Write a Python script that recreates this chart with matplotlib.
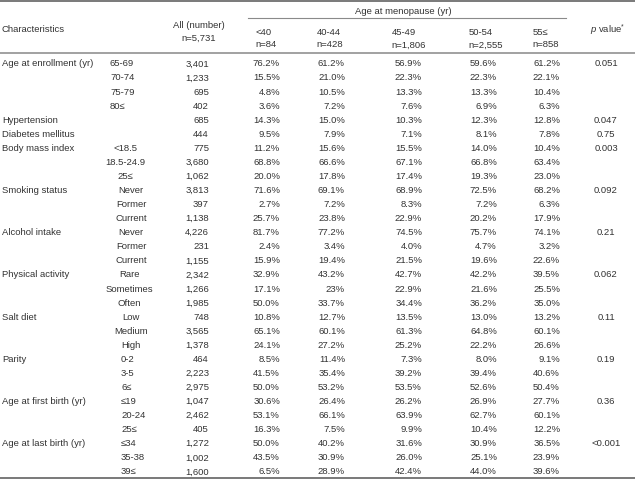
import matplotlib
matplotlib.use("Agg")
import matplotlib.pyplot as plt

# ---------------- data ----------------
groups = ["Age at enrollment (yr)", "Hypertension", "Diabetes mellitus",
          "Body mass index", "Smoking status", "Alcohol intake",
          "Physical activity", "Salt diet", "Parity",
          "Age at first birth (yr)", "Age at last birth (yr)"]
sublevels = [["65-69", "70-74", "75-79", "80≤"], [""], [""],
             ["<18.5", "18.5-24.9", "25≤"], ["Never", "Former", "Current"],
             ["Never", "Former", "Current"], ["Rare", "Sometimes", "Often"],
             ["Low", "Medium", "High"], ["0-2", "3-5", "6≤"],
             ["≤19", "20-24", "25≤"], ["≤34", "35-38", "39≤"]]
p_values = ["0.051", "0.047", "0.75", "0.003", "0.092", "0.21", "0.062",
            "0.11", "0.19", "0.36", "<0.001"]

all_number = ["3,401", "1,233", "695", "402", "685", "444", "775", "3,680",
              "1,062", "3,813", "397", "1,138", "4,226", "231", "1,155",
              "2,342", "1,266", "1,985", "748", "3,565", "1,378", "464",
              "2,223", "2,975", "1,047", "2,462", "405", "1,272", "1,002",
              "1,600"]
lt40 = ["76.2%", "15.5%", "4.8%", "3.6%", "14.3%", "9.5%", "11.2%", "68.8%",
        "20.0%", "71.6%", "2.7%", "25.7%", "81.7%", "2.4%", "15.9%", "32.9%",
        "17.1%", "50.0%", "10.8%", "65.1%", "24.1%", "8.5%", "41.5%", "50.0%",
        "30.6%", "53.1%", "16.3%", "50.0%", "43.5%", "6.5%"]
a40_44 = ["61.2%", "21.0%", "10.5%", "7.2%", "15.0%", "7.9%", "15.6%",
          "66.6%", "17.8%", "69.1%", "7.2%", "23.8%", "77.2%", "3.4%",
          "19.4%", "43.2%", "23%", "33.7%", "12.7%", "60.1%", "27.2%",
          "11.4%", "35.4%", "53.2%", "26.4%", "66.1%", "7.5%", "40.2%",
          "30.9%", "28.9%"]
a45_49 = ["56.9%", "22.3%", "13.3%", "7.6%", "10.3%", "7.1%", "15.5%",
          "67.1%", "17.4%", "68.9%", "8.3%", "22.9%", "74.5%", "4.0%",
          "21.5%", "42.7%", "22.9%", "34.4%", "13.5%", "61.3%", "25.2%",
          "7.3%", "39.2%", "53.5%", "26.2%", "63.9%", "9.9%", "31.6%",
          "26.0%", "42.4%"]
a50_54 = ["59.6%", "22.3%", "13.3%", "6.9%", "12.3%", "8.1%", "14.0%",
          "66.8%", "19.3%", "72.5%", "7.2%", "20.2%", "75.7%", "4.7%",
          "19.6%", "42.2%", "21.6%", "36.2%", "13.0%", "64.8%", "22.2%",
          "8.0%", "39.4%", "52.6%", "26.9%", "62.7%", "10.4%", "30.9%",
          "25.1%", "44.0%"]
a55 = ["61.2%", "22.1%", "10.4%", "6.3%", "12.8%", "7.8%", "10.4%", "63.4%",
       "23.0%", "68.2%", "6.3%", "17.9%", "74.1%", "3.2%", "22.6%", "39.5%",
       "25.5%", "35.0%", "13.2%", "60.1%", "26.6%", "9.1%", "40.6%", "50.4%",
       "27.7%", "60.1%", "12.2%", "36.5%", "23.9%", "39.6%"]

col_heads = ["<40", "40-44", "45-49", "50-54", "55≤"]
col_ns = ["n=84", "n=428", "n=1,806", "n=2,555", "n=858"]

# ---------------- layout ----------------
plt.rcParams["mathtext.fontset"] = "custom"
plt.rcParams["mathtext.rm"] = "Liberation Sans"
plt.rcParams["mathtext.it"] = "Liberation Sans:italic"

W, H = 635, 481
fig = plt.figure(figsize=(W / 100, H / 100), dpi=100)
ax = fig.add_axes([0, 0, 1, 1])
ax.set_xlim(0, W)
ax.set_ylim(H, 0)
ax.axis("off")

FONT = "Liberation Sans"
FS = 6.8
TC = "#333333"
BASE = 3.4  # px from visual centre down to baseline

def txt(x, y, s, ha="left", **kw):
    ax.text(x, y + BASE, s, ha=ha, va="baseline", fontsize=FS, color=TC,
            family=[FONT, "DejaVu Sans"], **kw)

# rules
ax.plot([0, W], [1.5, 1.5], color="#6e6e6e", lw=1.3, solid_capstyle="butt")
ax.plot([248, 566], [19, 19], color="#8a8a8a", lw=0.8)
ax.plot([0, W], [53.5, 53.5], color="#9a9a9a", lw=1.3, solid_capstyle="butt")
ax.plot([0, W], [479, 479], color="#6e6e6e", lw=1.3, solid_capstyle="butt")

# header
txt(2, 29, "Characteristics")
txt(199, 25, "All (number)", ha="center")
txt(199, 37, "n=5,731", ha="center")
txt(403, 11, "Age at menopause (yr)", ha="center")
head_left = [255, 316, 391, 468, 532]
for x, h, n in zip(head_left, col_heads, col_ns):
    txt(x + 1, 32, h)
    txt(x, 44, n)
txt(590, 30, r"$\it{p}$ value$^{*}$")

# sub-label alignment per group (ha, x)
sub_align = [("left", 110), ("left", 110), ("left", 110), ("center", 125),
             ("center", 131), ("center", 131), ("center", 129),
             ("center", 131), ("left", 121), ("left", 121), ("left", 121)]

y0, y1 = 63, 471
n_rows = len(all_number)
dy = (y1 - y0) / (n_rows - 1)
value_cols = [all_number, lt40, a40_44, a45_49, a50_54, a55]
value_right = [209, 280, 345, 422, 497, 560]

row = 0
for g, subs, p, (ha, sx) in zip(groups, sublevels, p_values, sub_align):
    y = y0 + row * dy
    txt(2, y, g)
    txt(606, y, p, ha="center")
    for s in subs:
        y = y0 + row * dy
        if s:
            txt(sx, y, s, ha=ha)
        for col, xr in zip(value_cols, value_right):
            txt(xr, y, col[row], ha="right")
        row += 1

fig.savefig("out.png", dpi=100)
